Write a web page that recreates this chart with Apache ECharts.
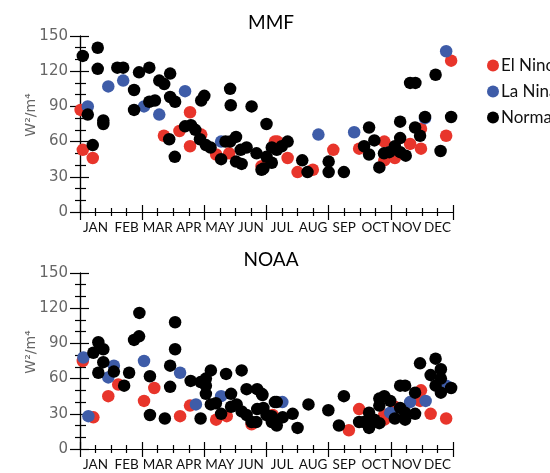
<!DOCTYPE html>
<html>
<head>
<meta charset="utf-8">
<script src="https://cdn.jsdelivr.net/npm/echarts@6/dist/echarts.min.js"></script>
<style>
  html, body { margin: 0; padding: 0; background: #fff; }
  #chart { width: 550px; height: 473px; }
</style>
</head>
<body>
<div id="chart"></div>
<script>
// month labels sit at mid-month on a 0..12 axis
var months = ['JAN', 'FEB', 'MAR', 'APR', 'MAY', 'JUN', 'JUL', 'AUG', 'SEP', 'OCT', 'NOV', 'DEC'];
var panelTitles = ['MMF', 'NOAA'];
var groupNames = ['El Nino', 'La Nina', 'Normal'];

// [month position, value]
var mmfElNino = [
    [0.02, 87], [0.09, 53], [0.41, 46], [2.7, 65], [3.2, 69], [3.54, 85], [3.54, 56],
    [3.9, 66], [4.38, 49], [4.8, 50], [5.84, 39], [6.27, 60], [6.35, 60], [6.68, 46],
    [7.0, 34], [7.49, 36], [8.15, 53], [8.98, 54], [9.79, 60], [9.79, 44], [10.13, 46],
    [10.62, 58], [10.97, 71], [10.97, 54], [11.78, 65], [11.94, 129]
];
var mmfLaNina = [
    [0.25, 90], [0.91, 107], [1.39, 112], [2.06, 90], [2.55, 83], [3.38, 103],
    [4.54, 60], [7.67, 66], [8.82, 68], [11.1, 80], [11.78, 137]
];
var mmfNormal = [
    [0.09, 133], [0.57, 140], [0.57, 122], [0.25, 83], [0.41, 57], [0.75, 78], [0.75, 75],
    [1.2, 123], [1.39, 123], [1.74, 104], [1.74, 87], [1.9, 119], [2.23, 123], [2.23, 94],
    [2.41, 95], [2.55, 112], [2.71, 109], [2.9, 118], [2.9, 98], [3.06, 94], [2.87, 62],
    [3.05, 47], [3.38, 73], [3.57, 74], [3.71, 70], [3.86, 62], [3.9, 95], [4.0, 99],
    [4.05, 57], [4.2, 55], [4.83, 105], [4.85, 91], [4.54, 45], [4.68, 60], [4.83, 60],
    [5.02, 64], [5.17, 53], [5.36, 55], [5.02, 43], [5.2, 41], [5.52, 90], [5.68, 50],
    [5.84, 36], [6.0, 75], [6.0, 47], [6.17, 42], [6.17, 55], [6.33, 53], [6.49, 56],
    [6.68, 60], [5.9, 37], [7.15, 44], [7.32, 34], [8.0, 43], [8.0, 34], [8.49, 34],
    [9.14, 56], [9.3, 72], [9.3, 49], [9.47, 61], [9.63, 38], [9.78, 50], [9.95, 51],
    [10.13, 56], [10.3, 77], [10.3, 63], [10.3, 51], [10.48, 48], [10.62, 110],
    [10.79, 110], [10.78, 72], [10.94, 65], [11.1, 81], [11.44, 117], [11.6, 52], [11.94, 81]
];

var noaaElNino = [
    [0.09, 75], [0.43, 27], [0.91, 45], [1.23, 55], [2.06, 41], [2.39, 52], [3.22, 28],
    [3.54, 37], [4.38, 25], [4.72, 28], [5.52, 21], [6.2, 29], [8.65, 16], [8.98, 34],
    [9.47, 24], [9.79, 25], [9.79, 29], [10.13, 36], [10.97, 50], [10.94, 41],
    [11.28, 30], [11.78, 26]
];
var noaaLaNina = [
    [0.11, 78], [0.27, 28], [0.91, 61], [1.09, 71], [2.06, 75], [3.22, 65], [3.73, 38],
    [4.54, 45], [6.51, 40], [9.98, 31], [10.62, 40], [11.12, 41], [11.78, 54]
];
var noaaNormal = [
    [0.43, 82], [0.59, 91], [0.59, 65], [0.75, 85], [0.75, 74], [1.09, 66], [1.42, 54],
    [1.58, 65], [1.74, 93], [1.9, 96], [1.91, 116], [2.25, 62], [2.25, 29], [2.73, 26],
    [2.9, 71], [2.9, 53], [3.06, 108], [3.06, 85], [3.56, 58], [3.88, 26], [3.88, 57],
    [4.05, 60], [4.05, 54], [4.05, 47], [4.21, 67], [4.21, 38], [4.37, 39], [4.54, 30],
    [4.7, 64], [4.86, 47], [4.86, 36], [5.04, 38], [5.2, 67], [5.2, 32], [5.36, 29],
    [5.36, 51], [5.52, 23], [5.67, 23], [5.7, 51], [5.87, 46], [5.7, 34], [6.0, 29],
    [6.17, 23], [6.27, 40], [5.85, 47], [5.9, 35], [6.17, 28], [6.33, 20], [6.33, 40],
    [6.52, 27], [6.84, 30], [7.0, 18], [7.35, 38], [7.99, 33], [8.33, 20], [8.49, 45],
    [8.98, 23], [9.14, 23], [9.3, 31], [9.3, 18], [9.47, 25], [9.63, 37], [9.63, 43],
    [9.63, 22], [9.79, 45], [9.98, 41], [10.13, 26], [10.3, 54], [10.46, 54], [10.3, 35],
    [10.46, 31], [10.46, 25], [10.78, 48], [10.78, 30], [10.94, 73], [11.28, 63],
    [11.44, 77], [11.44, 54], [11.61, 68], [11.61, 60], [11.61, 48], [11.94, 52]
];

var panels = [
    [mmfElNino, mmfLaNina, mmfNormal],
    [noaaElNino, noaaLaNina, noaaNormal]
];
var colors = ['#e8352b', '#3e5ca8', '#000000'];
var gridTops = [36, 273];

var grid = [], xAxis = [], yAxis = [], series = [], title = [];

gridTops.forEach(function (top, g) {
    grid.push({ left: 80, right: 97, top: top, height: 176 });
    title.push({
        text: panelTitles[g],
        left: 266, top: top - 28, textAlign: 'center',
        textStyle: { fontFamily: 'Lato', fontWeight: 'normal', fontSize: 19, color: '#000' }
    });

    var lineStyle = { color: '#000', width: 1.2 };
    // bottom value axis (ticks only)
    xAxis.push({
        gridIndex: g, type: 'value', min: 0, max: 12, interval: 2, position: 'bottom',
        axisLine: { lineStyle: lineStyle },
        axisTick: { length: 8, lineStyle: lineStyle },
        minorTick: { show: true, splitNumber: 4, length: 4, lineStyle: lineStyle },
        axisLabel: { show: false }, splitLine: { show: false }
    });
    // top mirror
    xAxis.push({
        gridIndex: g, type: 'value', min: 0, max: 12, interval: 2, position: 'top',
        axisLine: { lineStyle: lineStyle },
        axisTick: { length: 7, lineStyle: lineStyle },
        minorTick: { show: true, splitNumber: 4, length: 4, lineStyle: lineStyle },
        axisLabel: { show: false }, splitLine: { show: false }
    });
    // month labels
    xAxis.push({
        gridIndex: g, type: 'category', data: months, boundaryGap: true, position: 'bottom',
        axisLine: { show: false }, axisTick: { show: false },
        axisLabel: { margin: 9, fontFamily: 'Lato', fontSize: 13.5, color: '#111', interval: 0 }
    });

    yAxis.push({
        gridIndex: g, type: 'value', min: 0, max: 150, interval: 30, position: 'left',
        name: 'W\u00b2/m\u2074', nameLocation: 'middle', nameGap: 42, nameRotate: 90,
        nameMoveOverlap: false,
        nameTextStyle: { fontFamily: 'DejaVu Sans', fontSize: 14, color: '#666', padding: [0, 0, 0, 18] },
        axisLine: { show: true, lineStyle: lineStyle },
        axisTick: { length: 10, lineStyle: lineStyle },
        minorTick: { show: true, splitNumber: 3, length: 5, lineStyle: lineStyle },
        axisLabel: { margin: 12, fontFamily: 'DejaVu Sans', fontSize: 15, color: '#666' },
        splitLine: { show: false }
    });
    yAxis.push({
        gridIndex: g, type: 'value', min: 0, max: 150, interval: 30, position: 'right',
        axisLine: { show: true, lineStyle: lineStyle },
        axisTick: { length: 9, lineStyle: lineStyle },
        minorTick: { show: true, splitNumber: 3, length: 6, lineStyle: lineStyle },
        axisLabel: { show: false }, splitLine: { show: false }
    });

    panels[g].forEach(function (data, k) {
        series.push({
            name: groupNames[k], type: 'scatter',
            xAxisIndex: g * 3, yAxisIndex: g * 2,
            symbol: 'circle', symbolSize: 12.5,
            itemStyle: { color: colors[k], opacity: 1 },
            data: data
        });
    });
});

var chart = echarts.init(document.getElementById('chart'));
chart.setOption({
    animation: false,
    title: title,
    legend: {
        data: groupNames, orient: 'vertical', left: 482, top: 52,
        icon: 'circle', itemWidth: 12, itemHeight: 12, itemGap: 9,
        textStyle: { fontFamily: 'Lato', fontSize: 17, color: '#111', padding: [0, 0, 0, -3] }
    },
    grid: grid,
    xAxis: xAxis,
    yAxis: yAxis,
    series: series
});
</script>
</body>
</html>
